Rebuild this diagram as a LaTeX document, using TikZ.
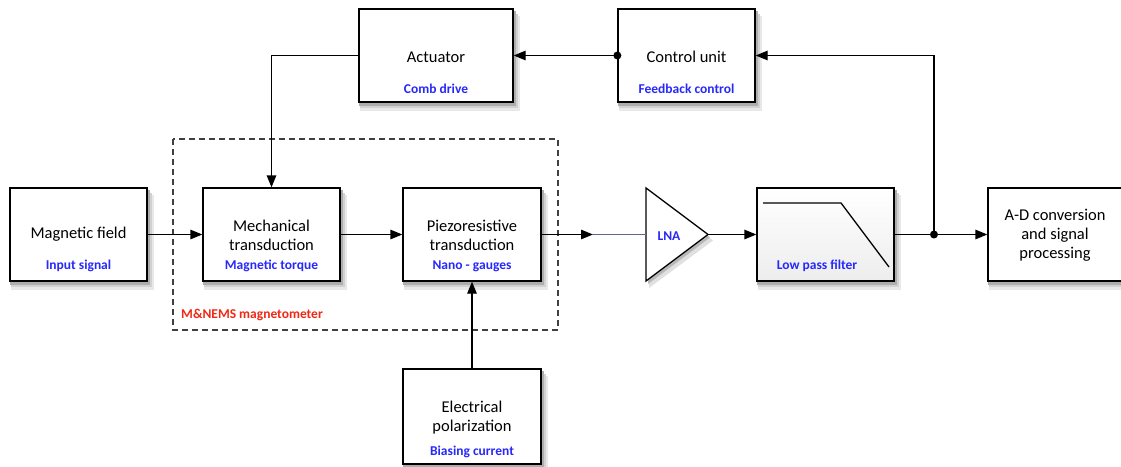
\documentclass[tikz,border=0pt]{standalone}
\usepackage{fontspec}
\setmainfont{Carlito}
\usetikzlibrary{arrows.meta,backgrounds}
\definecolor{subblue}{RGB}{40,40,250}
\definecolor{labelred}{RGB}{240,40,20}
\definecolor{wireblue}{RGB}{90,105,140}

\begin{document}
\begin{tikzpicture}[x=1pt, y=-1pt,
    block/.style={draw, line width=1.3pt, fill=white, minimum width=137pt, minimum height=93pt, inner sep=0pt},
    title/.style={font=\fontsize{16.5}{19}\selectfont, align=center, inner sep=0pt},
    sub/.style={font=\fontsize{13.5}{16}\selectfont\bfseries, text=subblue, inner sep=0pt},
    wire/.style={line width=1.3pt},
    arr/.style={wire, -{Triangle[length=12pt, width=9.5pt]}},
    dot/.style={circle, fill, inner sep=0pt, minimum size=8pt}]
        \useasboundingbox (0,0) rectangle (1121,466);

        % Dashed frame of the magnetometer
        \draw[line width=1.2pt, black!75, dash pattern=on 6pt off 4pt] (173,139) rectangle (558,330);
        \node[sub, text=labelred, anchor=west] (frame_label) at (181,315) {M\&NEMS magnetometer};

        % Main chain
        \node[block] (field) at (78.5,234.5) {};
        \node[title] (field_txt) at (78.5,234) {Magnetic field};
        \node[sub] (field_sub) at (78.5,266) {Input signal};

        \node[block] (mech) at (271.5,234.5) {};
        \node[title] (mech_txt) at (271.5,235.5) {Mechanical\\transduction};
        \node[sub] (mech_sub) at (271.5,266) {Magnetic torque};

        \node[block, minimum width=138pt] (piezo) at (472,234.5) {};
        \node[title] (piezo_txt) at (472,235.5) {Piezoresistive\\transduction};
        \node[sub] (piezo_sub) at (472,266) {Nano - gauges};

        % Amplifier
        \coordinate (lna_in) at (646,234.5);
        \coordinate (lna_out) at (708,234.5);
        \fill[black!12] (649,194) -- (713,240.5) -- (649,288) -- cycle;
        \fill[black!28] (648,191) -- (710,237.5) -- (648,284) -- cycle;
        \draw[wire, fill=white] (646,188) -- (lna_out) -- (646,281) -- cycle;
        \node[sub] (lna) at (669,236) {LNA};

        % Filter
        \node[block, top color=white, bottom color=black!7] (filter) at (825.5,234.5) {};
        \draw[wire] (763,203) -- (841,203) -- (889,267);
        \node[sub] (filter_sub) at (817,266) {Low pass filter};

        \node[block, minimum width=134pt] (adc) at (1055,234.5) {};
        \node[title] (adc_txt) at (1055,235) {A-D conversion\\and signal\\processing};

        % Feedback loop
        \node[block, minimum width=154pt] (actuator) at (436,55.5) {};
        \node[title] (actuator_txt) at (436,57) {Actuator};
        \node[sub] (actuator_sub) at (436,89) {Comb drive};

        \node[block] (control) at (686.5,55.5) {};
        \node[title] (control_txt) at (686.5,57) {Control unit};
        \node[sub] (control_sub) at (686.5,89) {Feedback control};

        % Biasing
        \node[block, minimum width=138pt, minimum height=95pt] (elec) at (472,416.5) {};
        \node[title] (elec_txt) at (472,417.5) {Electrical\\polarization};
        \node[sub] (elec_sub) at (472,452) {Biasing current};

        % Soft shadows behind the boxes
        \begin{scope}[on background layer]
          \foreach \b in {field,mech,piezo,filter,adc,actuator,control,elec} {
            \fill[black!9] ([xshift=2pt,yshift=-8pt]\b.south west) rectangle ([xshift=6pt,yshift=-8pt]\b.north east);
            \fill[black!18] ([xshift=1.5pt,yshift=-5.5pt]\b.south west) rectangle ([xshift=4pt,yshift=-5.5pt]\b.north east);
            \fill[black!32] ([xshift=1pt,yshift=-3pt]\b.south west) rectangle ([xshift=2.5pt,yshift=-3pt]\b.north east);
          }
        \end{scope}

        % Connectors
        \coordinate (lna_pre) at (593,234.5);
        \draw[arr] (field) -- (mech);
        \draw[arr] (mech) -- (piezo);
        \draw[arr] (piezo) -- (lna_pre);
        \draw[line width=1pt, wireblue] (lna_pre) -- (lna_in);
        \draw[arr] (lna_out) -- (filter);
        \draw[arr] (filter) -- (adc);
        \node[dot] (split) at (934,234.5) {};
        \draw[arr] (split.center) |- (control.east);
        \node[dot] (ctrl_dot) at (control.west) {};
        \draw[arr] (ctrl_dot.center) -- (actuator.east);
        \draw[arr] (actuator.west) -| (mech.north);
        \draw[arr] (elec) -- (piezo);
      \end{tikzpicture}
\end{document}
